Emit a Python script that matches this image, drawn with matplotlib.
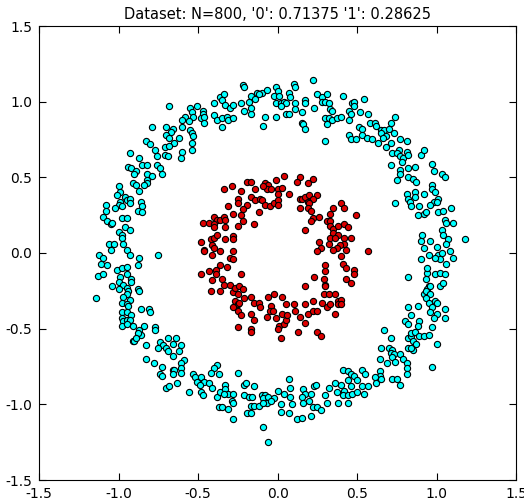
import matplotlib
matplotlib.use("Agg")
import matplotlib.pyplot as plt

# class '0' (outer ring)
outer_x = [
    -0.68, -0.55, -0.51, -0.54, -0.53, -0.58, -0.60, -0.56, -0.79, -0.70, -0.66, -0.60, -0.55, -0.67, -0.70, -0.68,
    -0.54, -0.53, -0.62, -0.65, -0.54, -0.83, -0.80, -0.71, -0.68, -0.77, -0.60, -0.54, -0.93, -0.87, -0.76, -0.71,
    -0.69, -0.61,
    -0.47, -0.47, -0.48, -0.46, -0.46, -0.40, -0.36, -0.34, -0.35, -0.33, -0.30, -0.28, -0.40, -0.38, -0.35, -0.35,
    -0.32, -0.31, -0.28, -0.23, -0.22, -0.21, -0.17, -0.18, -0.21, -0.17, -0.17, -0.13, -0.14, -0.10, -0.07, -0.12,
    -0.08, -0.09, -0.01, 0.00, -0.02, 0.01, 0.07, 0.08, -0.01, 0.02, 0.04, 0.05, 0.02, -0.01, 0.05, 0.07,
    0.10, 0.11, 0.11, 0.11, 0.17, 0.17, 0.15, 0.15, 0.16, 0.17, 0.22, 0.23, 0.25, 0.28, 0.31, 0.28,
    0.30, 0.32, 0.33, 0.34, 0.30, 0.32, 0.34, 0.37, 0.40, 0.31, 0.41, 0.30, 0.45, 0.45, 0.46, 0.47,
    0.48, 0.48, 0.45, 0.46, 0.49,
    0.54, 0.52, 0.57, 0.74, 0.58, 0.61, 0.62, 0.71, 0.51, 0.53, 0.65, 0.67, 0.70, 0.65, 0.68, 0.66,
    0.73, 0.53, 0.56, 0.59, 0.63, 0.71, 0.77, 0.81, 0.68, 0.72, 0.76, 0.75, 0.77, 0.79, 0.81, 0.82,
    0.90, 0.92,
    -0.94, -0.92, -0.89, -0.90, -0.85, -0.82, -0.76, -0.74, -0.73, -0.82, -0.79, -0.82, -0.82, -0.84, -0.91, -0.89,
    -0.87, -1.00, -0.99, -1.01, -0.96, -0.95, -0.93, -0.93, -0.99, -1.00, -1.02, -0.98, -1.08, -1.08, -0.86, -0.85,
    -0.88, -0.85, -1.10, -1.07, -1.05, -1.04, -0.98, -0.95, -1.00, -0.98, -0.96, -0.93, -0.98, -1.06, -1.03, -1.05,
    -0.97, -0.95, -0.93, -1.12, -1.10, -0.87, -0.75,
    0.71, 0.78, 0.77, 0.77, 0.82, 0.86, 0.82, 0.85, 0.87, 0.75, 0.97, 0.98, 1.03, 1.05, 0.97, 0.97,
    0.99, 0.92, 0.86, 0.86, 0.81, 0.82, 0.83, 0.84, 0.74, 1.01, 0.98, 1.00, 0.96, 0.89, 0.88, 0.92,
    0.93, 1.01, 1.04, 1.09, 1.05, 1.06, 1.10, 1.03, 1.04, 1.07, 0.91, 0.90, 0.96, 1.06, 1.00, 0.92,
    0.95, 0.90, 1.01, 1.03, 1.08, 1.10, 1.02, 0.99, 1.18,
    -1.11, -1.07, -0.88, -1.01, -0.98, -0.95, -1.13, -1.10, -0.95, -0.99, -0.92, -0.92, -1.00, -0.97, -0.95, -1.04,
    -1.00, -0.94, -0.88, -0.87, -0.95, -0.97, -1.14, -0.93, -0.98, -0.95, -0.94, -0.86, -0.81, -0.80, -0.98, -0.95,
    -0.92, -0.98, -0.97, -0.95, -0.93, -0.98, -0.95, -0.91, -0.84, -0.87, -0.86, -0.88, -0.77, -0.77, -0.91, -0.90,
    -0.89, -0.83, -0.69, -0.64, -0.74, -0.72, -0.70, -0.75, -0.69, -0.66, -0.61, -0.62, -0.66, -0.83, -0.59,
    1.06, 0.82, 0.94, 0.94, 0.99, 1.02, 1.05, 0.93, 0.95, 0.94, 0.96, 1.02, 1.04, 0.92, 0.93, 0.96,
    0.93, 0.95, 0.99, 1.00, 0.97, 0.96, 1.00, 0.98, 1.05, 1.05, 0.82, 0.88, 0.84, 0.80, 0.82, 0.89,
    0.88, 0.97, 0.67, 0.71, 0.82, 0.84, 0.84, 0.86, 0.85, 0.89, 0.92, 0.95, 0.87, 1.00, 0.65, 0.70,
    0.72, 0.71, 0.73, 0.82, 0.85, 0.84, 0.77, 0.64, 0.72, 0.79,
    -0.78, -0.73, -0.74, -0.73, -0.66, -0.65, -0.66, -0.61, -0.61, -0.61, -0.63, -0.70, -0.68, -0.56, -0.53, -0.52,
    -0.51,
    -0.38, -0.40, -0.42, -0.37, -0.25, -0.48, -0.46, -0.49, -0.43, -0.41, -0.48, -0.47, -0.38, -0.36, -0.33, -0.33,
    -0.31, -0.34, -0.28, -0.29, -0.28, -0.37, -0.35, -0.31, -0.28, -0.21, -0.20, -0.15, -0.21, -0.18, -0.16, -0.10,
    -0.08, -0.09, -0.06, -0.07, -0.02, -0.04, 0.00, -0.17, -0.15, -0.12, -0.09, -0.19, -0.17, -0.09, -0.06, 0.02,
    0.02, 0.04, 0.07, 0.08, 0.08, 0.09, 0.07, 0.16, 0.17, 0.15, 0.21, 0.20, 0.16, 0.23, 0.24, 0.22,
    0.25, 0.27, 0.21, 0.12, 0.15, 0.32, 0.30, 0.31, 0.36, 0.40, 0.37, 0.38, 0.41, 0.44, 0.46, 0.48,
    0.44, 0.46, 0.50, 0.42, 0.41, 0.44, 0.47, 0.50, 0.44,
    0.69, 0.74, 0.81, 0.81, 0.81, 0.97, 0.53, 0.55, 0.64, 0.64, 0.61, 0.62, 0.65, 0.72, 0.75, 0.77,
    0.53, 0.57, 0.54,
]
outer_y = [
    0.97, 0.96, 0.97, 0.93, 0.90, 0.90, 0.88, 0.87, 0.83, 0.83, 0.82, 0.83, 0.81, 0.80, 0.78, 0.76,
    0.79, 0.77, 0.76, 0.73, 0.73, 0.74, 0.72, 0.70, 0.71, 0.68, 0.67, 0.68, 0.66, 0.63, 0.64, 0.65,
    0.64, 0.63,
    0.94, 0.92, 0.89, 0.90, 0.86, 0.99, 1.03, 1.05, 1.01, 0.98, 0.96, 0.98, 0.91, 0.88, 0.89, 0.83,
    0.90, 0.88, 0.89, 0.99, 1.11, 1.10, 1.04, 1.00, 0.94, 0.92, 0.96, 1.06, 1.02, 1.06, 1.08, 1.05,
    0.90, 0.84, 1.10, 1.07, 1.04, 1.04, 1.06, 1.03, 0.99, 0.99, 1.00, 0.99, 0.97, 0.90, 0.92, 0.92,
    1.12, 1.10, 0.99, 0.95, 1.01, 0.99, 0.93, 0.86, 0.85, 0.82, 1.14, 0.96, 1.05, 1.03, 1.05, 1.00,
    1.00, 0.99, 0.95, 0.94, 0.89, 0.89, 0.88, 0.89, 0.90, 0.85, 1.04, 0.74, 0.88, 0.94, 0.92, 0.99,
    1.00, 0.97, 0.78, 0.75, 0.75,
    1.02, 0.93, 0.92, 0.90, 0.86, 0.86, 0.84, 0.86, 0.83, 0.82, 0.81, 0.81, 0.82, 0.79, 0.77, 0.76,
    0.79, 0.78, 0.76, 0.75, 0.73, 0.73, 0.75, 0.74, 0.70, 0.66, 0.68, 0.66, 0.64, 0.63, 0.67, 0.65,
    0.65, 0.68,
    0.57, 0.56, 0.54, 0.52, 0.58, 0.58, 0.58, 0.56, 0.52, 0.52, 0.51, 0.48, 0.46, 0.45, 0.46, 0.45,
    0.41, 0.44, 0.40, 0.38, 0.37, 0.35, 0.36, 0.33, 0.34, 0.32, 0.30, 0.31, 0.32, 0.28, 0.34, 0.31,
    0.28, 0.27, 0.24, 0.21, 0.19, 0.20, 0.23, 0.23, 0.14, 0.12, 0.17, 0.15, 0.10, 0.06, 0.06, 0.02,
    0.06, 0.02, -0.01, -0.01, -0.03, -0.03, -0.01,
    0.58, 0.60, 0.55, 0.52, 0.56, 0.57, 0.50, 0.49, 0.47, 0.48, 0.59, 0.54, 0.52, 0.50, 0.45, 0.42,
    0.40, 0.39, 0.40, 0.37, 0.39, 0.36, 0.34, 0.31, 0.33, 0.36, 0.34, 0.34, 0.32, 0.31, 0.25, 0.26,
    0.27, 0.27, 0.28, 0.30, 0.22, 0.20, 0.20, 0.15, 0.12, 0.09, 0.12, 0.08, 0.08, 0.06, 0.04, 0.03,
    -0.01, -0.04, -0.01, 0.00, 0.01, -0.03, -0.04, -0.03, 0.09,
    -0.07, -0.08, -0.08, -0.11, -0.10, -0.09, -0.15, -0.14, -0.14, -0.16, -0.17, -0.19, -0.19, -0.21, -0.23, -0.22,
    -0.24, -0.25, -0.24, -0.25, -0.27, -0.29, -0.30, -0.31, -0.33, -0.34, -0.35, -0.37, -0.37, -0.39, -0.39, -0.39,
    -0.41, -0.43, -0.45, -0.44, -0.44, -0.48, -0.47, -0.48, -0.48, -0.51, -0.54, -0.53, -0.49, -0.51, -0.58, -0.58,
    -0.56, -0.61, -0.56, -0.56, -0.59, -0.61, -0.63, -0.63, -0.65, -0.60, -0.61, -0.65, -0.68, -0.70, -0.71,
    -0.07, -0.16, -0.13, -0.10, -0.14, -0.13, -0.14, -0.17, -0.22, -0.24, -0.22, -0.22, -0.20, -0.27, -0.25, -0.27,
    -0.30, -0.33, -0.32, -0.33, -0.36, -0.39, -0.40, -0.43, -0.37, -0.43, -0.36, -0.35, -0.41, -0.45, -0.47, -0.45,
    -0.48, -0.49, -0.51, -0.56, -0.56, -0.55, -0.53, -0.52, -0.58, -0.55, -0.55, -0.54, -0.60, -0.60, -0.63, -0.63,
    -0.64, -0.66, -0.67, -0.63, -0.64, -0.63, -0.67, -0.70, -0.69, -0.70,
    -0.73, -0.75, -0.80, -0.81, -0.77, -0.77, -0.80, -0.73, -0.76, -0.79, -0.86, -0.89, -0.88, -0.92, -0.80, -0.82,
    -0.85,
    -0.74, -0.76, -0.79, -0.80, -0.79, -0.82, -0.85, -0.87, -0.86, -0.89, -0.92, -0.94, -0.95, -0.92, -0.87, -0.90,
    -0.93, -0.93, -0.93, -0.98, -0.99, -1.02, -1.02, -1.03, -1.10, -0.87, -0.86, -0.88, -0.94, -0.95, -0.95, -0.94,
    -0.94, -0.96, -0.95, -0.99, -0.96, -0.98, -0.91, -1.01, -1.01, -1.01, -0.99, -1.06, -1.06, -1.15, -1.25, -1.00,
    -1.05, -0.93, -0.83, -0.89, -0.95, -1.00, -1.06, -0.90, -0.93, -0.95, -0.93, -0.98, -0.99, -0.88, -0.87, -1.02,
    -1.02, -1.04, -1.08, -1.10, -1.09, -0.89, -0.94, -0.99, -0.86, -0.87, -0.92, -0.99, -0.77, -0.78, -0.80, -0.81,
    -0.84, -0.88, -0.84, -0.91, -0.94, -0.94, -0.93, -0.92, -0.99,
    -0.73, -0.72, -0.73, -0.76, -0.80, -0.75, -0.77, -0.80, -0.78, -0.81, -0.82, -0.86, -0.83, -0.83, -0.83, -0.87,
    -0.88, -0.88, -0.93,
]

# class '1' (inner ring)
inner_x = [
    0.04, 0.14, 0.12, 0.22, 0.19, -0.19, -0.17, -0.01, -0.08, -0.06, -0.07, -0.04, 0.00, 0.03, 0.07, 0.00,
    -0.34, -0.29, -0.23, -0.14, -0.09, -0.25, -0.25, -0.17, -0.14, -0.11, -0.10, -0.08, -0.05, -0.02, 0.00, 0.00,
    -0.19, -0.22, -0.31, -0.23, -0.28, -0.22, -0.12, -0.15, 0.14, 0.15, 0.17, 0.20, 0.25, 0.22, 0.19, 0.20,
    0.19, 0.14, 0.21, 0.22, 0.21, 0.26, 0.17, -0.40, -0.38, -0.36, -0.34, -0.33, -0.47, -0.43, -0.40, -0.40,
    -0.33, -0.25, 0.33, 0.35, 0.40, 0.42, 0.49, 0.31, 0.33, 0.33, 0.35, 0.38, 0.42, 0.44, 0.35, 0.38,
    0.42, 0.46, 0.33, 0.36, 0.42, 0.39, 0.37, 0.35, 0.32, 0.26, 0.27, 0.25, 0.43, 0.40, -0.48, -0.46,
    -0.46, -0.42, -0.40, -0.38, -0.33, -0.28, -0.28, -0.41, -0.40, -0.36, -0.41, -0.28, -0.30, -0.28,
    0.57,
    -0.48, -0.43, -0.39, -0.39, -0.36, -0.32, -0.23, -0.41, -0.35, -0.34, -0.30, -0.42, -0.36, -0.28, -0.27, -0.24,
    -0.22, -0.25, -0.27, -0.25, -0.24, -0.28, -0.25, -0.23, -0.21, -0.17, -0.15, -0.12, -0.11, -0.17, -0.15, -0.25,
    -0.17, -0.17, -0.06, -0.02, 0.03, -0.04, -0.05, -0.03, -0.07, -0.01, 0.01, 0.00, 0.04, 0.05, 0.03, 0.06,
    0.05, 0.10, 0.11, 0.02, 0.13, 0.14, 0.17, 0.17, 0.19, 0.22, 0.22, 0.25, 0.17, 0.23, 0.30, 0.30,
    0.29, 0.30, 0.30, 0.29, 0.32, 0.36, 0.28, 0.31, 0.33, 0.38, 0.40, 0.38, 0.40, 0.36, 0.41, 0.43,
    0.48, 0.48, 0.43, 0.46, 0.25, 0.27,
]
inner_y = [
    0.51, 0.50, 0.47, 0.49, 0.46, 0.47, 0.47, 0.48, 0.46, 0.45, 0.42, 0.42, 0.42, 0.43, 0.39, 0.39,
    0.42, 0.44, 0.41, 0.42, 0.44, 0.36, 0.33, 0.37, 0.35, 0.36, 0.35, 0.32, 0.31, 0.33, 0.35, 0.32,
    0.32, 0.29, 0.31, 0.25, 0.26, 0.21, 0.27, 0.19, 0.36, 0.36, 0.37, 0.38, 0.38, 0.36, 0.34, 0.33,
    0.30, 0.30, 0.28, 0.23, 0.21, 0.24, 0.15, 0.24, 0.22, 0.22, 0.24, 0.22, 0.20, 0.20, 0.19, 0.17,
    0.17, 0.18, 0.26, 0.30, 0.33, 0.30, 0.25, 0.21, 0.21, 0.18, 0.16, 0.18, 0.19, 0.17, 0.13, 0.12,
    0.10, 0.10, 0.10, 0.10, 0.06, 0.05, 0.03, 0.02, 0.06, 0.07, 0.03, 0.01, 0.02, -0.02, 0.07, 0.02,
    0.01, 0.09, 0.10, 0.12, 0.09, 0.11, 0.09, 0.05, 0.03, 0.01, -0.01, 0.01, -0.03, -0.04,
    0.01,
    -0.14, -0.12, -0.11, -0.14, -0.08, -0.09, -0.14, -0.18, -0.17, -0.21, -0.21, -0.25, -0.25, -0.26, -0.23, -0.22,
    -0.24, -0.27, -0.32, -0.34, -0.33, -0.36, -0.38, -0.41, -0.30, -0.29, -0.33, -0.33, -0.36, -0.40, -0.44, -0.49,
    -0.50, -0.52, -0.29, -0.27, -0.29, -0.35, -0.38, -0.38, -0.42, -0.43, -0.48, -0.50, -0.47, -0.44, -0.40, -0.41,
    -0.34, -0.34, -0.38, -0.56, -0.52, -0.42, -0.34, -0.46, -0.40, -0.32, -0.38, -0.38, -0.22, -0.16, -0.08, -0.12,
    -0.17, -0.21, -0.22, -0.27, -0.27, -0.27, -0.33, -0.36, -0.34, -0.32, -0.31, -0.34, -0.34, -0.40, -0.07, -0.10,
    -0.11, -0.14, -0.17, -0.20, -0.52, -0.55,
]

title = "Dataset: N=800, '0': 0.71375 '1': 0.28625"

plt.rcParams["axes.unicode_minus"] = False

fig = plt.figure(figsize=(5.24, 5.0), dpi=100)
ax = fig.add_axes([0.0744, 0.04, 0.911, 0.908])

ax.scatter(outer_x, outer_y, s=20, c="cyan", edgecolors="black", linewidths=0.8)
ax.scatter(inner_x, inner_y, s=20, c="#dd0000", edgecolors="black", linewidths=0.8)

ax.set_xlim(-1.5, 1.5)
ax.set_ylim(-1.5, 1.5)
ax.set_xticks([-1.5, -1.0, -0.5, 0.0, 0.5, 1.0, 1.5])
ax.set_yticks([-1.5, -1.0, -0.5, 0.0, 0.5, 1.0, 1.5])
ax.tick_params(direction="in", top=True, right=True, labelsize=10, length=5, pad=5)
ax.set_title(title, fontsize=10.5, pad=5)

fig.savefig("out.png", dpi=100)
